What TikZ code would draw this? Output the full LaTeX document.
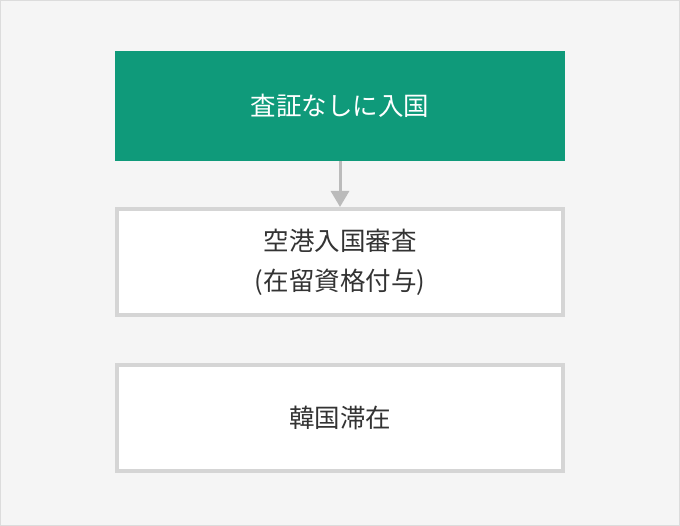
\documentclass[tikz,border=0pt]{standalone}
\usepackage{fontspec}
\setmainfont{Noto Sans CJK JP}
\usetikzlibrary{arrows.meta}
\definecolor{bggray}{HTML}{F5F5F5}
\definecolor{framegray}{HTML}{DCDCDC}
\definecolor{boxgray}{HTML}{D5D5D5}
\definecolor{arrowgray}{HTML}{BBBBBB}
\definecolor{entrygreen}{HTML}{0F9A7A}
\definecolor{textgray}{HTML}{333333}
\begin{document}
\begin{tikzpicture}[x=1pt, y=-1pt,
    every node/.style={font=\fontsize{25.5}{40}\selectfont, align=center},
    greenbox/.style={fill=entrygreen, text=white, minimum width=450pt, minimum height=110pt, inner sep=0pt},
    stagebox/.style={draw=boxgray, line width=4pt, fill=white, text=textgray, minimum width=446pt, minimum height=106pt, inner sep=0pt}]
    \useasboundingbox (0, 0) rectangle (680, 526);
    \draw[fill=bggray, draw=framegray] (0.5, 0.5) rectangle (679.5, 525.5);

    \node[greenbox] (visafree) at (340, 106) {査証なしに入国};
    \node[stagebox] (airport) at (340, 262) {空港入国審査\\(在留資格付与)};
    \node[stagebox] (stay) at (340, 418) {韓国滞在};

    \draw[arrowgray, line width=3pt, -{Triangle[width=18pt, length=16pt]}] (visafree) -- (airport);
  \end{tikzpicture}
\end{document}
